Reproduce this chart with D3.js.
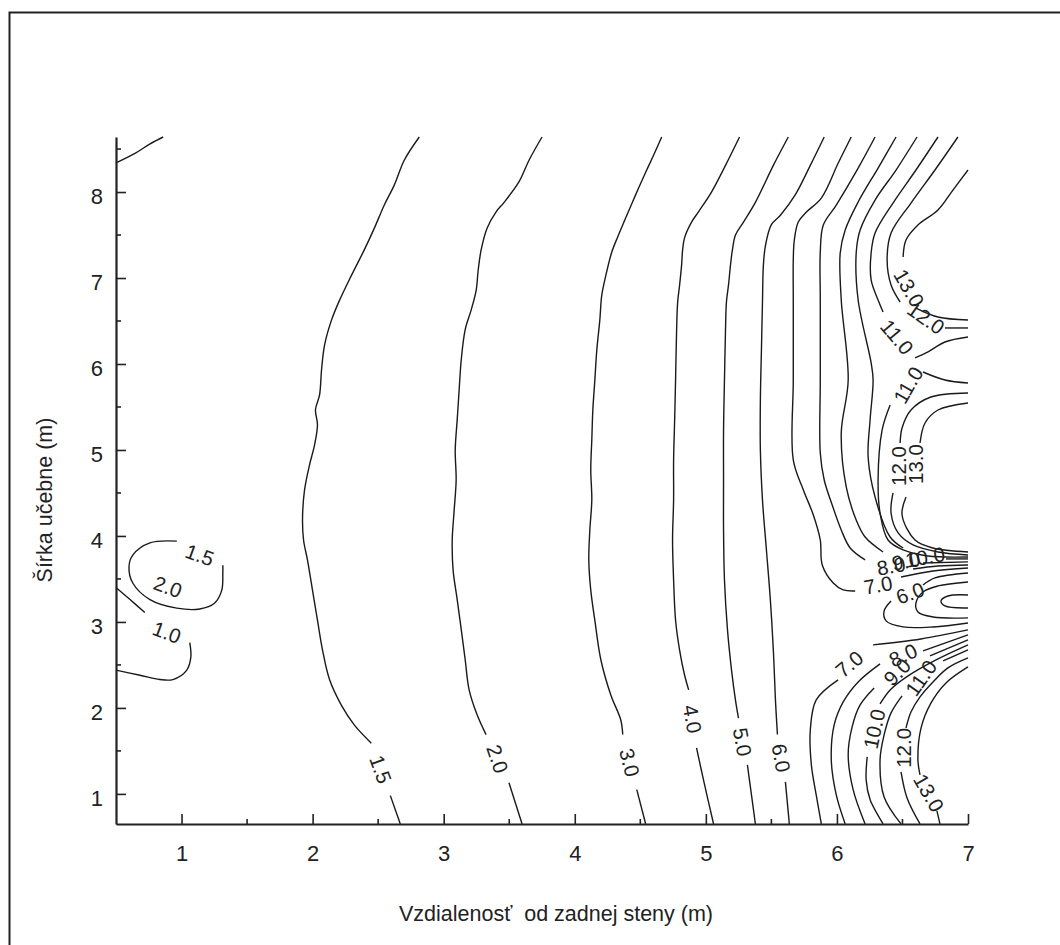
<!DOCTYPE html>
<html>
<head>
<meta charset="utf-8">
<script src="https://cdn.jsdelivr.net/npm/d3@7"></script>
<style>
  body { margin: 0; background: #fff; }
  text { font-family: "Liberation Sans", Arial, sans-serif; fill: #222; }
</style>
</head>
<body>
<svg id="chart" width="1060" height="945"></svg>
<script>
// Axis ticks
const xTicks = [1, 2, 3, 4, 5, 6, 7];
const yTicks = [1, 2, 3, 4, 5, 6, 7, 8];
const xMinor = [1.5, 2.5, 3.5, 4.5, 5.5, 6.5];
const yMinor = [1.5, 2.5, 3.5, 4.5, 5.5, 6.5, 7.5, 8.5];

// Contour polylines, [x (m), y (m)]
const c10a = [[0.5,8.34],[0.645,8.45],[0.76,8.56],[0.86,8.64]];
const c10b = [[0.5,3.40],[0.607,3.26],[0.72,3.11]];
const c10c = [[1.063,2.76],[1.071,2.59],[1.04,2.44],[0.934,2.33],[0.835,2.33],[0.683,2.38],[0.5,2.44]];
const c15loop = [[1.315,3.66],[1.315,3.57],[1.307,3.37],[1.253,3.22],[1.139,3.15],[0.964,3.16],[0.759,3.26],[0.629,3.45],[0.599,3.64],[0.629,3.78],[0.759,3.92],[0.964,3.94]];
const c15a = [[2.814,8.64],[2.699,8.37],[2.623,8.08],[2.547,7.85],[2.471,7.58],[2.395,7.33],[2.296,7.03],[2.205,6.74],[2.144,6.51],[2.091,6.22],[2.068,5.93],[2.053,5.64],[2.022,5.47],[2.037,5.29],[2.015,5.06],[1.977,4.83],[1.938,4.53],[1.923,4.19],[1.931,3.95],[1.961,3.72],[1.999,3.37],[2.037,3.02],[2.076,2.67],[2.129,2.33],[2.22,2.03],[2.319,1.80],[2.448,1.59]];
const c15b = [[2.593,0.98],[2.669,0.65]];
const c20a = [[3.75,8.64],[3.651,8.37],[3.575,8.12],[3.461,7.88],[3.4,7.77],[3.331,7.58],[3.286,7.33],[3.263,7.09],[3.248,6.86],[3.21,6.63],[3.164,6.40],[3.134,6.05],[3.118,5.70],[3.103,5.35],[3.088,5.0],[3.095,4.65],[3.08,4.30],[3.065,3.95],[3.072,3.60],[3.103,3.26],[3.134,2.91],[3.164,2.56],[3.194,2.21],[3.255,1.92],[3.323,1.69]];
const c20b = [[3.498,1.13],[3.598,0.65]];
const c30a = [[4.663,8.64],[4.602,8.43],[4.541,8.23],[4.465,7.97],[4.389,7.70],[4.328,7.48],[4.282,7.30],[4.237,7.03],[4.206,6.80],[4.191,6.51],[4.168,6.16],[4.153,5.81],[4.138,5.47],[4.13,5.12],[4.122,4.77],[4.13,4.42],[4.115,4.07],[4.107,3.72],[4.122,3.37],[4.153,3.02],[4.199,2.56],[4.275,2.15],[4.351,1.86],[4.366,1.69]];
const c30b = [[4.473,1.05],[4.541,0.65]];
const c40a = [[5.257,8.64],[5.15,8.31],[5.043,8.0],[4.944,7.77],[4.891,7.65],[4.838,7.47],[4.823,7.33],[4.815,7.15],[4.8,6.92],[4.785,6.72],[4.777,6.40],[4.769,5.81],[4.762,5.35],[4.754,4.88],[4.754,4.42],[4.746,3.95],[4.754,3.49],[4.769,3.02],[4.8,2.67],[4.838,2.38],[4.869,2.21]];
const c40b = [[4.929,1.535],[4.982,1.163],[5.059,0.65]];
const c50a = [[5.629,8.64],[5.515,8.31],[5.378,7.88],[5.287,7.65],[5.226,7.50],[5.203,7.33],[5.188,7.15],[5.173,6.92],[5.157,6.72],[5.15,6.40],[5.142,5.81],[5.135,5.23],[5.135,4.65],[5.135,4.07],[5.142,3.49],[5.165,2.91],[5.196,2.44],[5.226,2.09],[5.249,1.88]];
const c50b = [[5.317,1.337],[5.348,0.988],[5.378,0.65]];
const c50p = [[7.0,3.465],[6.771,3.419],[6.657,3.349],[6.603,3.221],[6.618,3.116],[6.733,3.058],[7.0,3.047]];
const c40p = [[7.0,3.314],[6.847,3.302],[6.794,3.244],[6.824,3.186],[7.0,3.163]];
const c60a = [[5.903,8.64],[5.797,8.31],[5.683,7.97],[5.569,7.73],[5.5,7.62],[5.455,7.38],[5.439,7.15],[5.432,6.72],[5.424,6.16],[5.416,5.58],[5.416,5.0],[5.432,4.42],[5.462,3.84],[5.492,3.26],[5.515,2.67],[5.531,2.09],[5.546,1.69]];
const c60b = [[5.607,1.14],[5.637,0.65]];
const c60p1 = [[7.0,3.570],[6.748,3.512],[6.657,3.430]];
const c60p2 = [[6.413,3.244],[6.360,3.128],[6.375,3.012],[6.505,2.942],[6.733,2.942],[7.0,2.988]];
const c70a = [[6.109,8.64],[6.010,8.337],[5.881,7.930],[5.767,7.767],[5.705,7.651],[5.675,7.442],[5.667,7.209],[5.667,6.744],[5.667,5.814],[5.667,4.884],[5.744,4.535],[5.820,4.244],[5.873,3.953],[5.888,3.663],[5.972,3.453],[6.048,3.372],[6.139,3.360]];
const c70b = [[6.489,3.523],[6.733,3.593],[7.0,3.628]];
const c70c = [[7.0,2.907],[6.641,2.802],[6.276,2.733]];
const c70d = [[6.009,2.326],[5.842,2.093],[5.797,1.744],[5.805,1.337],[5.842,0.988],[5.881,0.651]];
const c80a = [[6.291,8.64],[6.162,8.279],[5.995,7.849],[5.896,7.616],[5.873,7.302],[5.873,6.744],[5.873,5.814],[5.873,4.965],[5.903,4.651],[5.964,4.360],[6.033,4.070],[6.101,3.860],[6.215,3.721]];
const c80b = [[6.581,3.616],[6.771,3.651],[7.0,3.663]];
const c80c = [[7.0,2.849],[6.657,2.663]];
const c80d = [[6.329,2.512],[6.162,2.302],[6.048,2.070],[5.979,1.802],[5.957,1.395],[5.995,0.988],[6.063,0.651]];
const c90a = [[6.451,8.64],[6.314,8.279],[6.162,7.884],[6.063,7.558],[6.025,7.291],[6.033,6.744],[6.086,5.814],[6.033,5.198],[6.071,4.570],[6.147,4.186],[6.215,3.988],[6.352,3.814]];
const c90b = [[6.657,3.686],[7.0,3.698]];
const c90c = [[7.0,2.791],[6.710,2.605]];
const c90d = [[6.284,2.233],[6.177,2.035],[6.116,1.779],[6.086,1.453],[6.124,1.047],[6.215,0.651]];
const c100a = [[6.611,8.64],[6.451,8.256],[6.291,7.907],[6.177,7.558],[6.147,7.291],[6.162,6.744],[6.261,6.012],[6.276,5.814],[6.253,5.349],[6.238,4.919],[6.291,4.453],[6.406,3.988],[6.505,3.860]];
const c100b = [[6.832,3.733],[7.0,3.733]];
const c100c = [[7.0,2.733],[6.756,2.558],[6.543,2.372],[6.406,2.209],[6.329,2.047]];
const c100d = [[6.231,1.430],[6.223,1.163],[6.254,0.930],[6.352,0.651]];
const c110a = [[6.771,8.64],[6.603,8.256],[6.428,7.872],[6.291,7.523],[6.261,7.291],[6.261,6.977],[6.314,6.744],[6.352,6.605]];
const c110b = [[6.596,6.070],[6.695,6.140],[6.824,6.256],[7.0,6.314]];
const c110c = [[7.0,5.779],[6.824,5.814],[6.657,5.907]];
const c110d = [[6.406,5.523],[6.345,5.233],[6.314,4.651],[6.329,4.267],[6.390,3.953],[6.505,3.837],[6.695,3.767],[7.0,3.756]];
const c110e = [[7.0,2.674],[6.810,2.547]];
const c110f = [[6.497,2.140],[6.413,1.942],[6.360,1.686],[6.329,1.395],[6.360,0.965],[6.489,0.651]];
const c120a = [[6.923,8.64],[6.748,8.256],[6.565,7.872],[6.413,7.523],[6.383,7.209],[6.413,6.919],[6.482,6.721]];
const c120b = [[6.824,6.419],[7.0,6.419]];
const c120c = [[7.0,5.663],[6.717,5.616],[6.565,5.465],[6.497,5.256],[6.482,5.081]];
const c120d = [[6.428,4.5],[6.413,4.267],[6.467,4.035],[6.581,3.895],[6.771,3.814],[7.0,3.779]];
const c120e = [[7.0,2.581],[6.847,2.465],[6.733,2.302],[6.634,2.128],[6.565,1.953],[6.527,1.767]];
const c120f = [[6.489,1.256],[6.535,0.953],[6.634,0.651]];
const c130a = [[7.0,8.256],[6.885,8.023],[6.771,7.791],[6.618,7.616],[6.527,7.442],[6.505,7.244]];
const c130b = [[6.603,6.651],[6.771,6.547],[7.0,6.512]];
const c130c = [[7.0,5.547],[6.771,5.465],[6.672,5.314],[6.634,5.081]];
const c130d = [[6.527,4.453],[6.497,4.244],[6.596,3.953],[6.733,3.860],[7.0,3.814]];
const c130e = [[7.0,2.477],[6.832,2.291],[6.718,2.058],[6.642,1.767],[6.618,1.395],[6.634,1.221]];
const c130f = [[6.763,0.802],[6.786,0.651]];

const contourLines = [c10a, c10b, c10c, c15loop, c15a, c15b, c20a, c20b, c30a, c30b,
  c40a, c40b, c50a, c50b, c50p, c40p, c60a, c60b, c60p1, c60p2,
  c70a, c70b, c70c, c70d, c80a, c80b, c80c, c80d, c90a, c90b, c90c, c90d,
  c100a, c100b, c100c, c100d, c110a, c110b, c110c, c110d, c110e, c110f,
  c120a, c120b, c120c, c120d, c120e, c120f, c130a, c130b, c130c, c130d, c130e, c130f];

// Contour level labels: [level, x, y]
const contourLabels = [
  [1.5, 1.139, 3.78], [2.0, 0.896, 3.41], [1.0, 0.888, 2.88],
  [1.5, 2.52, 1.285], [2.0, 3.411, 1.407], [3.0, 4.419, 1.366],
  [4.0, 4.899, 1.872], [5.0, 5.279, 1.605], [6.0, 5.576, 1.419],
  [7.0, 6.314, 3.430], [8.0, 6.413, 3.651], [9.0, 6.527, 3.709], [10.0, 6.672, 3.756],
  [6.0, 6.558, 3.337], [7.0, 6.094, 2.512], [8.0, 6.505, 2.616], [9.0, 6.459, 2.419],
  [10.0, 6.284, 1.756], [11.0, 6.641, 2.349], [12.0, 6.505, 1.535], [13.0, 6.702, 1.012],
  [11.0, 6.459, 6.314], [12.0, 6.680, 6.535], [13.0, 6.550, 6.884],
  [11.0, 6.543, 5.756], [12.0, 6.467, 4.814], [13.0, 6.603, 4.837]
];
// Text rotation of each label, degrees
const labelAngles = [20, 20, 20, 70, 71, 76, 80, 80, 80,
  -10, -10, -10, -10, -20, -40, -25, -45, -78, -55, -90, 60, 50, 35, 60, -60, -90, -90];

const svg = d3.select("#chart");
const x = d3.scaleLinear().domain([0.5, 7]).range([116, 968]);
const y = d3.scaleLinear().domain([0.65, 8.64]).range([824, 137]);

// Outer frame (left and top edges)
svg.append("path").attr("d", "M9.5,945 V12.5 H1060")
  .attr("fill", "none").attr("stroke", "#222").attr("stroke-width", 2);

const line = d3.line().x(d => x(d[0])).y(d => y(d[1])).curve(d3.curveCatmullRom.alpha(0.5));

svg.append("g").selectAll("path").data(contourLines).join("path")
  .attr("d", line).attr("fill", "none").attr("stroke", "#1a1a1a").attr("stroke-width", 1.4);

svg.append("g").selectAll("text").data(contourLabels).join("text")
  .attr("transform", (d, i) => `translate(${x(d[1])},${y(d[2])}) rotate(${labelAngles[i]})`)
  .attr("text-anchor", "middle").attr("dy", "0.36em")
  .style("font-size", "20.5px")
  .text(d => d3.format(".1f")(d[0]));

// Axes
const xAxis = svg.append("g").attr("transform", `translate(0,${y(0.65)})`)
  .call(d3.axisBottom(x).tickValues(xTicks).tickSizeInner(-10).tickSizeOuter(0).tickPadding(21).tickFormat(d3.format("d")));
xAxis.append("g").selectAll("line").data(xMinor).join("line")
  .attr("x1", d => x(d)).attr("x2", d => x(d)).attr("y1", 0).attr("y2", -5);
const yAxis = svg.append("g").attr("transform", `translate(${x(0.5)},0)`)
  .call(d3.axisLeft(y).tickValues(yTicks).tickSizeInner(-10).tickSizeOuter(0).tickPadding(13).tickFormat(d3.format("d")));
yAxis.append("g").selectAll("line").data(yMinor).join("line")
  .attr("y1", d => y(d)).attr("y2", d => y(d)).attr("x1", 0).attr("x2", 5);

svg.selectAll(".domain").attr("stroke", "#222").attr("stroke-width", 2.2);
svg.selectAll(".tick line").attr("stroke", "#222").attr("stroke-width", 2);
xAxis.selectAll("g > g > line, g > line").attr("stroke", "#222").attr("stroke-width", 1.6);
yAxis.selectAll("g > g > line, g > line").attr("stroke", "#222").attr("stroke-width", 1.6);
svg.selectAll(".tick text").style("font-size", "22px").attr("fill", "#222").style("font-family", "'Liberation Sans', Arial, sans-serif");
yAxis.selectAll(".tick text").attr("dy", "0.52em");

svg.append("text").attr("x", 556).attr("y", 921).attr("text-anchor", "middle")
  .style("font-size", "21.5px").style("white-space", "pre").text("Vzdialenosť  od zadnej steny (m)");
svg.append("text").attr("transform", "translate(52,500) rotate(-90)").attr("text-anchor", "middle")
  .style("font-size", "21.5px").text("Šírka učebne (m)");
</script>
</body>
</html>
